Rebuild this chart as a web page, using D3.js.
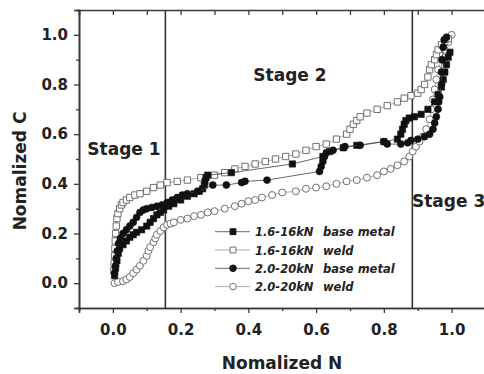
<!DOCTYPE html>
<html>
<head>
<meta charset="utf-8">
<script src="https://cdn.jsdelivr.net/npm/d3@7"></script>
<style>
  html, body { margin: 0; padding: 0; background: #fff; }
  svg { display: block; font-family: 'DejaVu Sans', sans-serif; }
</style>
</head>
<body>
<div id="chart"></div>
<script>
// [Normalized N, Normalized C]
const base16 = [
  [0.005,0.03],[0.008,0.06],[0.012,0.09],[0.016,0.12],[0.02,0.14],[0.03,0.155],[0.04,0.17],
  [0.05,0.185],[0.06,0.195],[0.07,0.205],[0.085,0.215],[0.10,0.23],[0.11,0.245],[0.12,0.26],
  [0.13,0.275],[0.14,0.285],[0.15,0.295],[0.165,0.31],[0.18,0.32],[0.20,0.335],[0.22,0.35],
  [0.24,0.36],[0.255,0.37],[0.265,0.38],[0.27,0.395],[0.272,0.41],[0.275,0.425],[0.28,0.435],
  [0.35,0.445],[0.53,0.48],[0.62,0.51],[0.64,0.53],[0.68,0.545],[0.72,0.555],[0.80,0.57],
  [0.84,0.58],[0.85,0.60],[0.855,0.62],[0.86,0.64],[0.865,0.655],[0.875,0.665],[0.89,0.67],
  [0.91,0.68],[0.93,0.70],[0.95,0.73],[0.96,0.76],[0.97,0.79],[0.975,0.82],[0.98,0.85],
  [0.985,0.88],[0.99,0.91],[0.995,0.93]
]
const weld16 = [
  [0.003,0.05],[0.004,0.08],[0.005,0.11],[0.006,0.14],[0.007,0.17],[0.008,0.20],[0.010,0.23],
  [0.012,0.26],[0.015,0.28],[0.020,0.30],[0.025,0.315],[0.030,0.325],[0.040,0.335],[0.050,0.345],
  [0.065,0.355],[0.080,0.36],[0.10,0.37],[0.12,0.385],[0.14,0.395],[0.16,0.405],[0.19,0.41],
  [0.22,0.415],[0.26,0.425],[0.30,0.435],[0.33,0.445],[0.36,0.46],[0.39,0.47],[0.42,0.48],
  [0.45,0.49],[0.48,0.50],[0.51,0.51],[0.54,0.52],[0.57,0.535],[0.60,0.55],[0.63,0.56],
  [0.66,0.58],[0.69,0.60],[0.70,0.62],[0.71,0.64],[0.72,0.655],[0.73,0.67],[0.75,0.685],
  [0.78,0.70],[0.81,0.715],[0.84,0.73],[0.86,0.745],[0.88,0.755],[0.90,0.765],[0.91,0.78],
  [0.92,0.80],[0.93,0.83],[0.935,0.86],[0.94,0.88],[0.95,0.90],[0.955,0.92],[0.96,0.94],
  [0.97,0.96],[0.98,0.975],[0.99,0.985]
]
const base20 = [
  [0.005,0.04],[0.008,0.07],[0.01,0.10],[0.013,0.13],[0.017,0.16],[0.022,0.18],[0.03,0.20],
  [0.04,0.215],[0.05,0.23],[0.06,0.245],[0.07,0.265],[0.08,0.285],[0.09,0.295],[0.10,0.30],
  [0.115,0.305],[0.13,0.31],[0.145,0.315],[0.16,0.325],[0.175,0.335],[0.19,0.345],[0.205,0.355],
  [0.22,0.36],[0.25,0.37],[0.295,0.395],[0.335,0.395],[0.38,0.405],[0.39,0.41],[0.455,0.415],
  [0.61,0.45],[0.615,0.47],[0.62,0.49],[0.625,0.51],[0.63,0.525],[0.65,0.535],[0.685,0.55],
  [0.73,0.555],[0.80,0.57],[0.81,0.56],[0.85,0.56],[0.87,0.565],[0.88,0.575],[0.90,0.58],
  [0.92,0.59],[0.935,0.60],[0.945,0.62],[0.95,0.645],[0.955,0.67],[0.96,0.70],[0.962,0.73],
  [0.965,0.75],[0.97,0.80],[0.97,0.85],[0.972,0.90],[0.975,0.95],[0.978,0.98],[0.985,0.99]
]
const weld20 = [
  [0.005,0.0],[0.015,0.005],[0.03,0.008],[0.04,0.015],[0.05,0.025],[0.06,0.04],[0.07,0.055],
  [0.08,0.07],[0.09,0.09],[0.10,0.11],[0.105,0.13],[0.11,0.145],[0.12,0.165],[0.125,0.18],
  [0.13,0.195],[0.14,0.21],[0.15,0.225],[0.16,0.235],[0.17,0.24],[0.18,0.245],[0.20,0.255],
  [0.22,0.26],[0.24,0.27],[0.26,0.275],[0.28,0.285],[0.30,0.29],[0.33,0.3],[0.36,0.31],
  [0.38,0.32],[0.40,0.33],[0.42,0.335],[0.44,0.345],[0.47,0.355],[0.50,0.365],[0.54,0.37],
  [0.57,0.38],[0.60,0.385],[0.63,0.39],[0.66,0.40],[0.69,0.41],[0.72,0.415],[0.75,0.425],
  [0.78,0.435],[0.80,0.45],[0.82,0.46],[0.84,0.475],[0.86,0.49],[0.875,0.51],[0.885,0.53],
  [0.895,0.55],[0.905,0.57],[0.915,0.59],[0.925,0.62],[0.935,0.66],[0.94,0.70],[0.945,0.74],
  [0.95,0.78],[0.955,0.82],[0.96,0.86],[0.97,0.90],[0.98,0.94],[0.99,0.97],[1.0,1.0]
]

const seriesNames = ['1.6-16kN', '1.6-16kN', '2.0-20kN', '2.0-20kN']
const seriesKinds = ['base metal', 'weld', 'base metal', 'weld']
const stageLines = [0.155, 0.884]
const xTicks = [0.0, 0.2, 0.4, 0.6, 0.8, 1.0]
const yTicks = [0.0, 0.2, 0.4, 0.6, 0.8, 1.0]
const minorTicks = [-0.1, 0.1, 0.3, 0.5, 0.7, 0.9, 1.1]

const W = 484, H = 374
const margin = { top: 10, left: 79 }
const plotW = 406.5, plotH = 298

const svg = d3.select('#chart').append('svg')
  .attr('width', W).attr('height', H)

const x = d3.scaleLinear().domain([-0.1, 1.1]).range([margin.left, margin.left + plotW])
const y = d3.scaleLinear().domain([-0.1, 1.1]).range([margin.top + plotH, margin.top])

const axisColor = '#3a3a3a'
const fmt = d3.format('.1f')

// axes (bottom/left outward, top/right inward)
const gx = svg.append('g').attr('transform', `translate(0,${y(-0.1)})`)
  .call(d3.axisBottom(x).tickValues(xTicks).tickFormat(fmt).tickSize(5).tickPadding(11))
svg.append('g').attr('transform', `translate(0,${y(-0.1)})`)
  .call(d3.axisBottom(x).tickValues(minorTicks).tickFormat('').tickSize(3))
const gy = svg.append('g').attr('transform', `translate(${x(-0.1)},0)`)
  .call(d3.axisLeft(y).tickValues(yTicks).tickFormat(fmt).tickSize(5).tickPadding(6))
svg.append('g').attr('transform', `translate(${x(-0.1)},0)`)
  .call(d3.axisLeft(y).tickValues(minorTicks).tickFormat('').tickSize(3))
svg.append('g').attr('transform', `translate(0,${y(1.1)})`)
  .call(d3.axisBottom(x).tickValues(xTicks.concat(minorTicks)).tickFormat('').tickSize(5))
svg.append('g').attr('transform', `translate(${x(1.1)},0)`)
  .call(d3.axisLeft(y).tickValues(yTicks.concat(minorTicks)).tickFormat('').tickSize(-5))

svg.selectAll('.domain').attr('stroke', axisColor).attr('stroke-width', 1.6)
svg.selectAll('.tick line').attr('stroke', axisColor).attr('stroke-width', 1.3)
svg.selectAll('.tick text')
  .attr('fill', '#222').attr('font-size', '15px').attr('font-weight', 'bold')
  .attr('font-family', "'DejaVu Sans', sans-serif")

// stage dividers
svg.selectAll('.stage-line').data(stageLines).join('line')
  .attr('x1', d => x(d)).attr('x2', d => x(d))
  .attr('y1', y(1.1)).attr('y2', y(-0.1))
  .attr('stroke', '#333').attr('stroke-width', 1.6)

const line = d3.line().x(d => x(d[0])).y(d => y(d[1]))

function drawSeries(data, filled, shape) {
  const g = svg.append('g')
  g.append('path').datum(data).attr('d', line)
    .attr('fill', 'none')
    .attr('stroke', filled ? '#444' : '#9a9a9a')
    .attr('stroke-width', 0.8)
  const sym = d3.symbol().type(shape === 'square' ? d3.symbolSquare : d3.symbolCircle)
    .size(shape === 'square' ? 40 : 38)
  g.selectAll('path.pt').data(data).join('path')
    .attr('class', 'pt')
    .attr('d', sym)
    .attr('transform', d => `translate(${x(d[0])},${y(d[1])})`)
    .attr('fill', filled ? '#111' : '#fff')
    .attr('stroke', filled ? '#111' : '#707070')
    .attr('stroke-width', filled ? 0.6 : 1)
}

drawSeries(weld20, false, 'circle')
drawSeries(weld16, false, 'square')
drawSeries(base16, true, 'square')
drawSeries(base20, true, 'circle')

// stage labels
const stageLabels = [
  { t: 'Stage 1', x: 124, y: 155, anchor: 'middle' },
  { t: 'Stage 2', x: 290, y: 81, anchor: 'middle' },
  { t: 'Stage 3', x: 412, y: 207, anchor: 'start' }
]
svg.selectAll('.stage-label').data(stageLabels).join('text')
  .attr('x', d => d.x).attr('y', d => d.y)
  .attr('text-anchor', d => d.anchor)
  .attr('font-size', '17px').attr('font-weight', 'bold').attr('fill', '#222')
  .text(d => d.t)

// legend
const legendRows = [
  { filled: true, shape: 'square' },
  { filled: false, shape: 'square' },
  { filled: true, shape: 'circle' },
  { filled: false, shape: 'circle' }
]
const legend = svg.append('g').attr('transform', 'translate(215,231.7)')
legendRows.forEach((r, i) => {
  const row = legend.append('g').attr('transform', `translate(0,${i * 18.3})`)
  row.append('line').attr('x1', 0).attr('x2', 35).attr('y1', 0).attr('y2', 0)
    .attr('stroke', r.filled ? '#444' : '#9a9a9a').attr('stroke-width', 0.8)
  row.append('path')
    .attr('d', d3.symbol().type(r.shape === 'square' ? d3.symbolSquare : d3.symbolCircle)
      .size(r.shape === 'square' ? 34 : 34))
    .attr('transform', 'translate(18,0)')
    .attr('fill', r.filled ? '#111' : '#fff')
    .attr('stroke', r.filled ? '#111' : '#707070')
    .attr('stroke-width', 1)
  row.append('text').attr('x', 40).attr('y', 4.5)
    .attr('font-size', '11.5px').attr('font-weight', 'bold').attr('font-style', 'italic')
    .attr('fill', '#222').text(seriesNames[i])
  row.append('text').attr('x', 108).attr('y', 4.5)
    .attr('font-size', '11.5px').attr('font-weight', 'bold').attr('font-style', 'italic')
    .attr('fill', '#222').text(seriesKinds[i])
})

// axis titles
svg.append('text')
  .attr('x', 282).attr('y', 369).attr('text-anchor', 'middle')
  .attr('font-size', '17px').attr('font-weight', 'bold').attr('fill', '#222')
  .text('Nomalized N')
svg.append('text')
  .attr('transform', 'translate(26,171) rotate(-90)').attr('text-anchor', 'middle')
  .attr('font-size', '17px').attr('font-weight', 'bold').attr('fill', '#222')
  .text('Nomalized C')
</script>
</body>
</html>
